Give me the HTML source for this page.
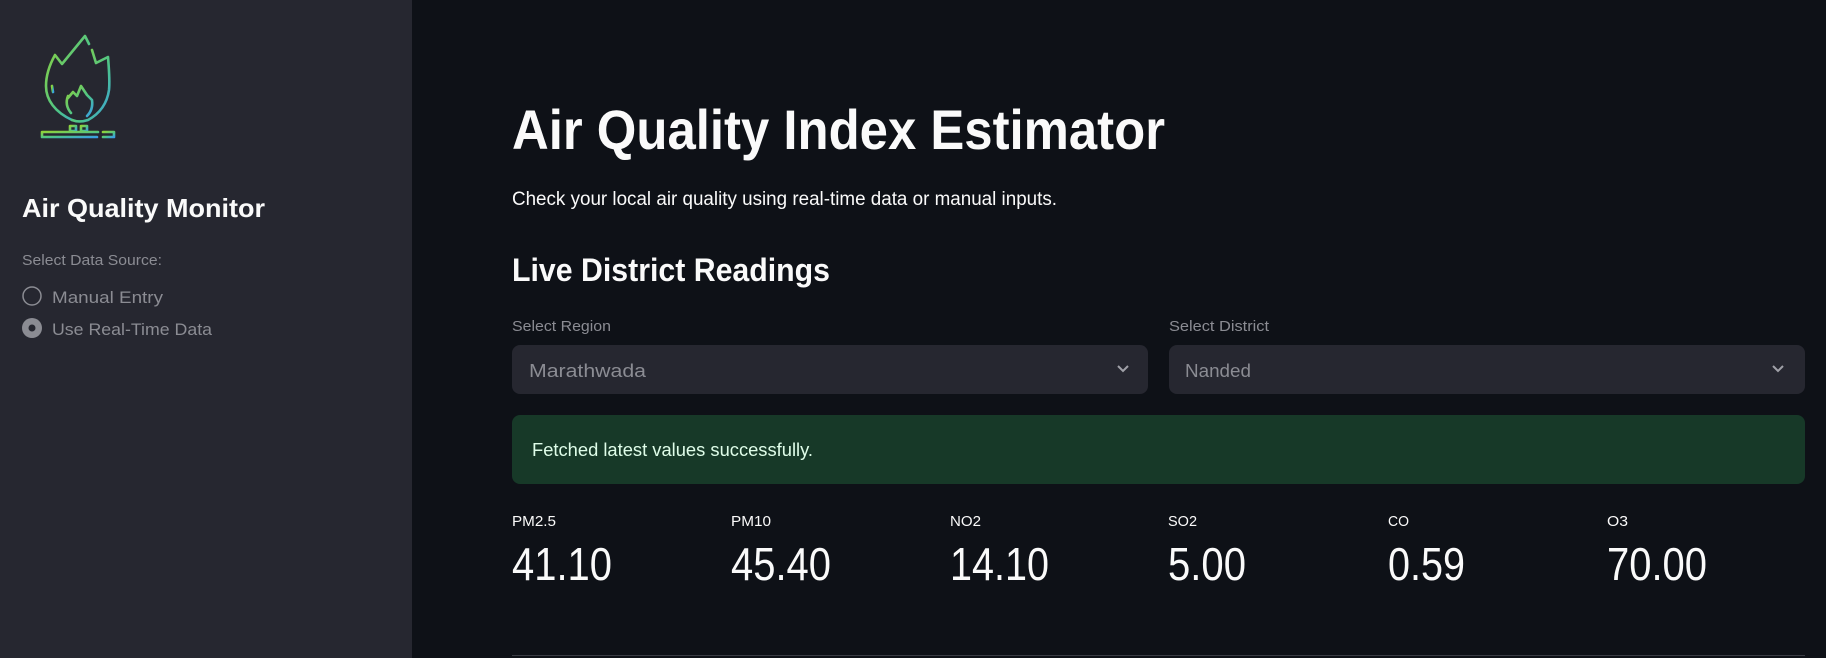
<!DOCTYPE html>
<html><head><meta charset="utf-8"><style>
html,body{margin:0;padding:0;background:#0e1117;width:1826px;height:658px;overflow:hidden}
svg{display:block}
text{font-family:"Liberation Sans",sans-serif}
</style></head><body>
<svg width="1826" height="658" viewBox="0 0 1826 658">
<defs>
<linearGradient id="lg" x1="0" y1="0" x2="1" y2="1">
<stop offset="0" stop-color="#8fd23a"/><stop offset="0.6" stop-color="#4cc48a"/><stop offset="1" stop-color="#3a9ee6"/>
</linearGradient>
</defs>
<rect x="0" y="0" width="1826" height="658" fill="#0e1117"/>
<g>
<rect x="0" y="0" width="412" height="658" fill="#262730"/>
<g fill="none" stroke="url(#lg)" stroke-width="2.6" stroke-linecap="round" stroke-linejoin="round">
<path d="M72 120 C55 112 46 100 46 86 C46 74 50 64 55 55 L62 64 L85 36 L89 44"/>
<path d="M92 50 L96 63 L108 57 C109 70 110 80 109 90 C107 104 99 114 88 120 C82 122 77 122 72 120"/>
<path d="M52 86 L53 92"/>
<path d="M71 113 C66 107 66 101 68 96 L68 98 L73 92 L77 96 L81 86 L87 95 L92 100 C93 107 91 112 87 116"/>
<rect x="70" y="126" width="6" height="5"/><rect x="81" y="126" width="6" height="5"/>
<path d="M98 132 L42 132 L42 137 L97 137"/>
<path d="M103 132 L114 132 L114 137 L103 137"/>
</g>
<text x="22" y="217" font-size="26" font-weight="bold" fill="#fafafa" textLength="243" lengthAdjust="spacingAndGlyphs">Air Quality Monitor</text>
<text x="22" y="265" font-size="15" fill="#8b8c93" textLength="140" lengthAdjust="spacingAndGlyphs">Select Data Source:</text>
<g>
<circle cx="32" cy="296" r="9" fill="none" stroke="#8b8c93" stroke-width="1.5"/>
<text x="52" y="303" font-size="17" fill="#8b8c93" textLength="111" lengthAdjust="spacingAndGlyphs">Manual Entry</text>
</g>
<g>
<circle cx="32" cy="328" r="10" fill="#8b8c93"/><circle cx="32" cy="328" r="3.5" fill="#262730"/>
<text x="52" y="335" font-size="17" fill="#8b8c93" textLength="160" lengthAdjust="spacingAndGlyphs">Use Real-Time Data</text>
</g>
</g>
<text x="512" y="149" font-size="56" font-weight="bold" fill="#fafafa" textLength="653" lengthAdjust="spacingAndGlyphs">Air Quality Index Estimator</text>
<text x="512" y="205" font-size="19" fill="#fafafa" textLength="545" lengthAdjust="spacingAndGlyphs">Check your local air quality using real-time data or manual inputs.</text>
<text x="512" y="281" font-size="32" font-weight="bold" fill="#fafafa" textLength="318" lengthAdjust="spacingAndGlyphs">Live District Readings</text>
<text x="512" y="331" font-size="15" fill="#8b8c93" textLength="99" lengthAdjust="spacingAndGlyphs">Select Region</text>
<g>
<rect x="512" y="345" width="636" height="49" rx="8" fill="#262730"/>
<text x="529" y="377" font-size="18" fill="#8b8c93" textLength="117" lengthAdjust="spacingAndGlyphs">Marathwada</text>
<path d="M1118 366 L1123 371 L1128 366" fill="none" stroke="#a0a1a8" stroke-width="2"/>
</g>
<text x="1169" y="331" font-size="15" fill="#8b8c93" textLength="100" lengthAdjust="spacingAndGlyphs">Select District</text>
<g>
<rect x="1169" y="345" width="636" height="49" rx="8" fill="#262730"/>
<text x="1185" y="377" font-size="18" fill="#8b8c93" textLength="66" lengthAdjust="spacingAndGlyphs">Nanded</text>
<path d="M1773 366 L1778 371 L1783 366" fill="none" stroke="#a0a1a8" stroke-width="2"/>
</g>
<g>
<rect x="512" y="415" width="1293" height="69" rx="8" fill="#173928"/>
<text x="532" y="456" font-size="18" fill="#dffde9" textLength="281" lengthAdjust="spacingAndGlyphs">Fetched latest values successfully.</text>
</g>
<g>
<text x="512" y="526" font-size="15" fill="#fafafa" textLength="44" lengthAdjust="spacingAndGlyphs">PM2.5</text>
<text x="512" y="580" font-size="46" fill="#fafafa" textLength="100" lengthAdjust="spacingAndGlyphs">41.10</text>
</g>
<g>
<text x="731" y="526" font-size="15" fill="#fafafa" textLength="40" lengthAdjust="spacingAndGlyphs">PM10</text>
<text x="731" y="580" font-size="46" fill="#fafafa" textLength="100" lengthAdjust="spacingAndGlyphs">45.40</text>
</g>
<g>
<text x="950" y="526" font-size="15" fill="#fafafa" textLength="31" lengthAdjust="spacingAndGlyphs">NO2</text>
<text x="950" y="580" font-size="46" fill="#fafafa" textLength="99" lengthAdjust="spacingAndGlyphs">14.10</text>
</g>
<g>
<text x="1168" y="526" font-size="15" fill="#fafafa" textLength="29" lengthAdjust="spacingAndGlyphs">SO2</text>
<text x="1168" y="580" font-size="46" fill="#fafafa" textLength="78" lengthAdjust="spacingAndGlyphs">5.00</text>
</g>
<g>
<text x="1388" y="526" font-size="15" fill="#fafafa" textLength="21" lengthAdjust="spacingAndGlyphs">CO</text>
<text x="1388" y="580" font-size="46" fill="#fafafa" textLength="77" lengthAdjust="spacingAndGlyphs">0.59</text>
</g>
<g>
<text x="1607" y="526" font-size="15" fill="#fafafa" textLength="21" lengthAdjust="spacingAndGlyphs">O3</text>
<text x="1607" y="580" font-size="46" fill="#fafafa" textLength="100" lengthAdjust="spacingAndGlyphs">70.00</text>
</g>
<rect x="512" y="655" width="1293" height="1" fill="#3a3c44"/>
</svg>
</body></html>
